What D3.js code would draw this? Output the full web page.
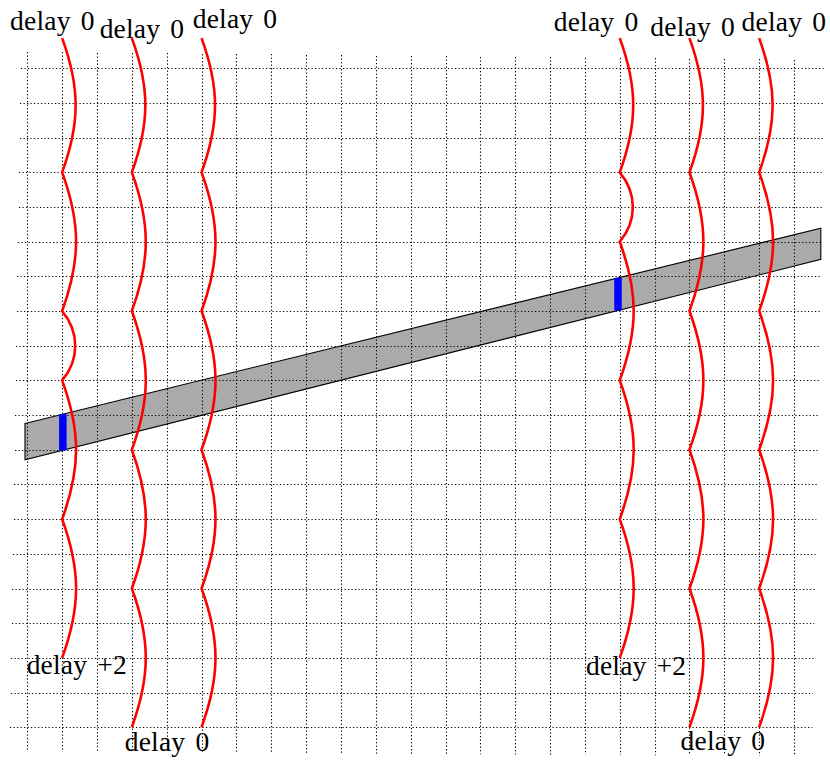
<!DOCTYPE html>
<html>
<head>
<meta charset="utf-8">
<script src="https://cdn.jsdelivr.net/npm/d3@7"></script>
<style>
  html, body { margin: 0; padding: 0; background: #fff; }
  svg { display: block; }
  .label { font-family: "Liberation Serif", "DejaVu Serif", serif; font-size: 27.5px; letter-spacing: 0.2px; word-spacing: 3px; fill: #000; }
</style>
</head>
<body>
<div id="chart"></div>
<script>
// --- DATA (grid units: x to the right, y downward) ---

// Grid line positions
const gridCols = [0, 1, 2, 3, 4, 5, 6, 7, 8, 9, 10, 11, 12, 13, 14, 15, 16, 17, 18, 19, 20, 21, 22];
const gridRows = [0, 1, 2, 3, 4, 5, 6, 7, 8, 9, 10, 11, 12, 13, 14, 15, 16, 17, 18, 19];

// Frame the dotted grid is clipped to (slightly skewed): TL, TR, BR, BL
const gridFrame = [[-0.18, -0.47], [22.89, -0.24], [22.51, 19.83], [-0.50, 19.71]];

// Red wires: column, kink rows, bend angle (deg) of each piece
const wireCols = [1, 3, 5, 17, 19, 21];
const wireKinks = [
  [-0.87, 3, 7, 9, 13, 17],
  [-0.87, 3, 7, 11, 15, 19],
  [-0.87, 3, 7, 11, 15, 19],
  [-0.87, 3, 5, 9, 13, 17],
  [-0.87, 3, 7, 11, 15, 19],
  [-0.87, 3, 7, 11, 15, 19]
];
const wireBends = [
  [20, 20, 40, 20, 20],
  [20, 20, 20, 20, 20],
  [20, 20, 20, 20, 20],
  [20, 40, 20, 20, 20],
  [20, 20, 20, 20, 20],
  [20, 20, 20, 20, 20]
];

// Gray band corners
const bandCorners = [[-0.066, 10.24], [22.77, 4.61], [22.77, 5.51], [-0.066, 11.29]];

// Blue markers on the band (columns)
const markerCols = [1.02, 16.95];

// Text labels: text, centre column, baseline row
const labelTexts = ["delay 0", "delay 0", "delay 0", "delay 0", "delay 0", "delay 0",
                    "delay +2", "delay 0", "delay +2", "delay 0"];
const labelCols = [0.72, 3.29, 5.96, 16.32, 19.09, 21.71, 1.42, 4.01, 17.47, 19.96];
const labelRows = [-1.10, -0.87, -1.15, -1.08, -0.93, -1.08, 17.47, 19.68, 17.48, 19.66];


// --- SETUP ---
const width = 830, height = 760;

const x = d3.scaleLinear().domain([0, 22]).range([27.3, 27.3 + 22 * 34.85]);
const y = d3.scaleLinear().domain([0, 19]).range([68.3, 68.3 + 19 * 34.68]);

const svg = d3.select("#chart").append("svg")
    .attr("width", width)
    .attr("height", height);

svg.append("rect").attr("width", width).attr("height", height).attr("fill", "#fff");

// Linear interpolation along a frame edge
function lerp(a, b, t) { return a + (b - a) * t; }
function edgeXAtRow(p, q, row) { return lerp(p[0], q[0], (row - p[1]) / (q[1] - p[1])); }
function edgeYAtCol(p, q, col) { return lerp(p[1], q[1], (col - p[0]) / (q[0] - p[0])); }
const snap = v => Math.round(v) + 0.5;


// --- BAND ---
svg.append("polygon")
    .attr("points", bandCorners.map(c => [x(c[0]), y(c[1])].join(",")).join(" "))
    .attr("fill", "#aaaaaa")
    .attr("stroke", "#000")
    .attr("stroke-width", 1.1)
    .attr("stroke-linejoin", "miter");


// --- GRID ---
const [fTL, fTR, fBR, fBL] = gridFrame;
const grid = svg.append("g")
    .attr("stroke", "#000")
    .attr("stroke-width", 1.1)
    .attr("stroke-dasharray", "1.2 2.3")
    .attr("fill", "none");

grid.selectAll(".hline").data(gridRows).join("line")
    .attr("class", "hline")
    .attr("x1", r => Math.round(x(edgeXAtRow(fTL, fBL, r))))
    .attr("x2", r => x(edgeXAtRow(fTR, fBR, r)))
    .attr("y1", r => snap(y(r)))
    .attr("y2", r => snap(y(r)));

grid.selectAll(".vline").data(gridCols).join("line")
    .attr("class", "vline")
    .attr("x1", c => snap(x(c)))
    .attr("x2", c => snap(x(c)))
    .attr("y1", c => Math.round(y(edgeYAtCol(fTL, fTR, c))))
    .attr("y2", c => y(edgeYAtCol(fBL, fBR, c)));


// --- BLUE MARKERS ---
const [bTL, bTR, bBR, bBL] = bandCorners;
svg.selectAll(".marker").data(markerCols).join("line")
    .attr("class", "marker")
    .attr("x1", c => x(c))
    .attr("x2", c => x(c))
    .attr("y1", c => y(edgeYAtCol(bTL, bTR, c)))
    .attr("y2", c => y(edgeYAtCol(bBL, bBR, c)))
    .attr("stroke", "#0000ff")
    .attr("stroke-width", 7.5);


// --- RED WIRES ---
// Each piece is a TikZ-like "bend left" cubic between two kinks on the same column
function wirePath(col, kinks, bends) {
    const p = d3.path();
    const px = x(col);
    p.moveTo(px, y(kinks[0]));
    for (let i = 1; i < kinks.length; i++) {
        const y0 = y(kinks[i - 1]), y1 = y(kinks[i]);
        const d = 0.3915 * (y1 - y0);
        const a = bends[i - 1] * Math.PI / 180;
        p.bezierCurveTo(px + d * Math.sin(a), y0 + d * Math.cos(a),
                        px + d * Math.sin(a), y1 - d * Math.cos(a),
                        px, y1);
    }
    return p.toString();
}

svg.selectAll(".wire").data(wireCols).join("path")
    .attr("class", "wire")
    .attr("d", (c, i) => wirePath(c, wireKinks[i], wireBends[i]))
    .attr("fill", "none")
    .attr("stroke", "#ff0000")
    .attr("stroke-width", 2.6)
    .attr("stroke-linejoin", "miter");


// --- LABELS ---
svg.selectAll(".label").data(labelTexts).join("text")
    .attr("class", "label")
    .attr("x", (t, i) => x(labelCols[i]))
    .attr("y", (t, i) => y(labelRows[i]))
    .attr("text-anchor", "middle")
    .text(t => t);
</script>
</body>
</html>
